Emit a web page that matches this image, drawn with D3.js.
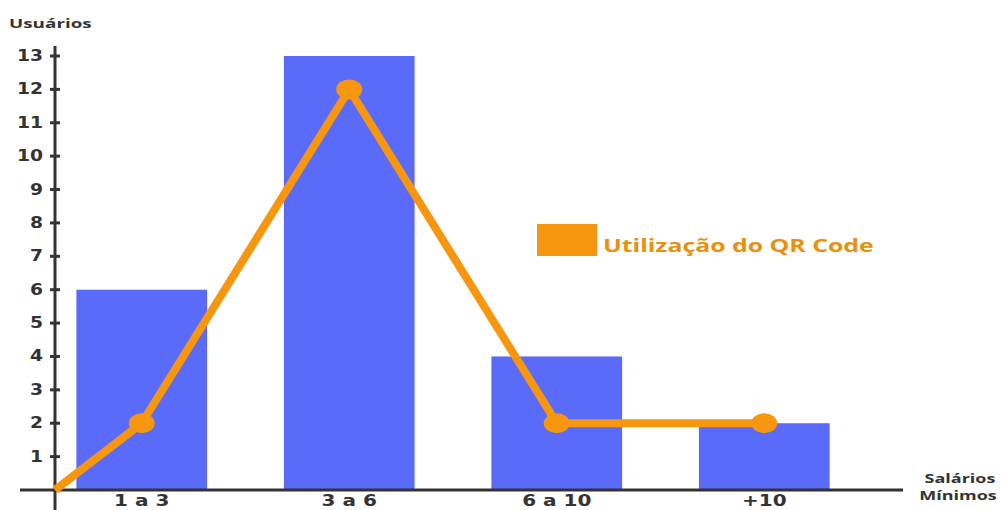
<!DOCTYPE html>
<html><head><meta charset="utf-8">
<script src="https://cdn.jsdelivr.net/npm/d3@7"></script>
<style>body{margin:0;background:#fff;}svg{display:block;font-family:"Open Sans","DejaVu Sans",sans-serif;}</style>
</head><body>
<svg id="c" width="1003" height="510"></svg>
<script>
const categories = ["1 a 3","3 a 6","6 a 10","+10"];
const barValues = [6,13,4,2];
const lineValues = [2,12,2,2];
const yTicks = [1,2,3,4,5,6,7,8,9,10,11,12,13];
const legendLabel = "Utilização do QR Code";

const svg = d3.select("#c");
const axisX = 55, baseY = 490;
const x = d3.scaleBand().domain(categories).range([38,868]).paddingInner(0.37).paddingOuter(0.185);
const y = d3.scaleLinear().domain([0,13]).range([baseY,56]);
const barColor = "#5a6bfa", orange = "#f7960f", axisColor = "#333";

svg.selectAll("rect.bar").data(barValues).join("rect").attr("class","bar")
  .attr("x",(d,i)=>x(categories[i])).attr("width",x.bandwidth())
  .attr("y",d=>y(d)).attr("height",d=>y(0)-y(d)).attr("fill",barColor);

// axes
svg.append("line").attr("x1",20).attr("x2",903).attr("y1",baseY).attr("y2",baseY).attr("stroke",axisColor).attr("stroke-width",3);
svg.append("line").attr("x1",axisX).attr("x2",axisX).attr("y1",46).attr("y2",510).attr("stroke",axisColor).attr("stroke-width",3);
const yAxis = d3.axisLeft(y).tickValues(yTicks).tickSize(0).tickPadding(0);
const gy = svg.append("g").attr("transform",`translate(${axisX},0)`).call(yAxis);
gy.select(".domain").remove();
gy.selectAll("text").attr("font-family","'DejaVu Sans',sans-serif").attr("font-size",15).attr("font-weight","bold").attr("fill","#333")
  .attr("x",0).attr("dy","0.3em").attr("transform","translate(-12,0) scale(1.25,1)");
svg.selectAll("line.yt").data(yTicks).join("line").attr("class","yt")
  .attr("x1",axisX-5).attr("x2",axisX+5).attr("y1",d=>y(d)).attr("y2",d=>y(d)).attr("stroke",axisColor).attr("stroke-width",3);

const xAxis = d3.axisBottom(x).tickSize(0).tickPadding(0);
const gx = svg.append("g").attr("transform",`translate(0,${baseY})`).call(xAxis);
gx.select(".domain").remove();
gx.selectAll("text").attr("font-family","'DejaVu Sans',sans-serif").attr("font-size",16).attr("font-weight","bold").attr("fill","#333")
  .attr("dy","0").attr("y",0).attr("transform","translate(0,16) scale(1.25,1)");

// line
const pts = [[axisX,y(0)]].concat(lineValues.map((v,i)=>[x(categories[i])+x.bandwidth()/2,y(v)]));
svg.append("path").attr("d",d3.line()(pts)).attr("fill","none").attr("stroke",orange).attr("stroke-width",8).attr("stroke-linejoin","round");
svg.selectAll("ellipse.pt").data(lineValues).join("ellipse").attr("class","pt")
  .attr("cx",(d,i)=>x(categories[i])+x.bandwidth()/2).attr("cy",d=>y(d)).attr("rx",13).attr("ry",10).attr("fill",orange);

// labels
svg.append("text").attr("transform","translate(9,28) scale(1.45,1)").attr("font-size",13).attr("font-weight","bold").attr("fill","#333").text("Usuários");
svg.append("text").attr("transform","translate(960,483) scale(1.5,1)").attr("text-anchor","middle").attr("font-size",12).attr("font-weight","bold").attr("fill","#333").text("Salários");
svg.append("text").attr("transform","translate(958,500) scale(1.5,1)").attr("text-anchor","middle").attr("font-size",12).attr("font-weight","bold").attr("fill","#333").text("Mínimos");

// legend
svg.append("rect").attr("x",537).attr("y",224).attr("width",60).attr("height",32).attr("fill",orange);
svg.append("text").attr("transform","translate(603,252) scale(1.38,1)").attr("font-size",18).attr("font-weight","bold").attr("fill","#e8900f").text(legendLabel);
</script>
</body></html>
